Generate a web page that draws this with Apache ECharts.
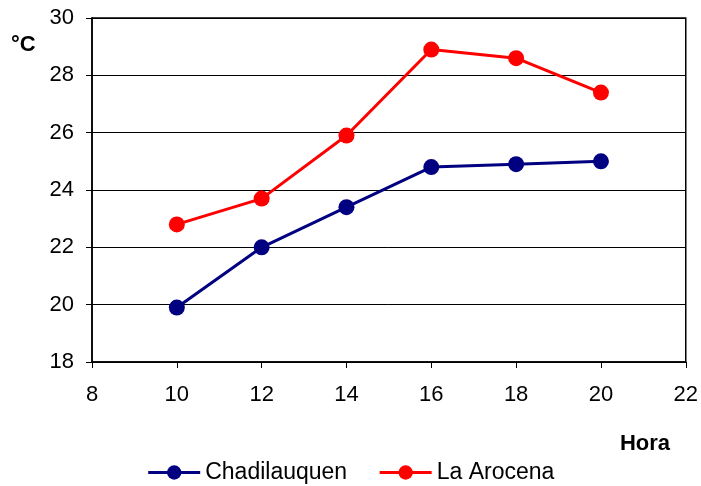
<!DOCTYPE html>
<html>
<head>
<meta charset="utf-8">
<script src="https://cdn.jsdelivr.net/npm/echarts@6/dist/echarts.min.js"></script>
<style>
  html, body { margin: 0; padding: 0; background: #fff; }
  #chart { width: 701px; height: 486px; }
</style>
</head>
<body>
<div id="chart"></div>
<script>
// Hourly temperatures at two sites
const horas = [10, 12, 14, 16, 18, 20];
const chadilauquen = [19.9, 22.0, 23.4, 24.8, 24.9, 25.0];
const laArocena = [22.8, 23.7, 25.9, 28.9, 28.6, 27.4];
const seriesNames = ['Chadilauquen', 'La Arocena'];

const font = 'Liberation Sans, Arial, sans-serif';
const chart = echarts.init(document.getElementById('chart'));

function pairs(xs, ys) { return xs.map((x, i) => [x, ys[i]]); }

chart.setOption({
  animation: false,
  backgroundColor: '#fff',
  grid: { left: 92, right: 15, top: 18, bottom: 124, show: true, borderColor: '#000', borderWidth: 1.5 },
  xAxis: {
    type: 'value', min: 8, max: 22, interval: 2,
    axisLine: { lineStyle: { color: '#000', width: 1.5 } },
    axisTick: { show: true, length: 6, lineStyle: { color: '#000' } },
    axisLabel: { fontFamily: font, fontSize: 22, color: '#000', margin: 22 },
    splitLine: { show: false }
  },
  yAxis: {
    type: 'value', min: 18, max: 30, interval: 2,
    axisLine: { show: true, lineStyle: { color: '#000', width: 1.5 } },
    axisTick: { show: true, length: 6, lineStyle: { color: '#000' } },
    axisLabel: { fontFamily: font, fontSize: 22, color: '#000', margin: 18 },
    splitLine: { show: true, lineStyle: { color: '#000', width: 1 } }
  },
  graphic: [
    {
      type: 'text', x: 11, y: 45,
      style: { text: '°C', fontFamily: font, fontSize: 22, fontWeight: 'bold', fill: '#000',
        textAlign: 'left', textVerticalAlign: 'middle' }
    },
    {
      type: 'text', x: 670, y: 444,
      style: { text: 'Hora', fontFamily: font, fontSize: 22, fontWeight: 'bold', fill: '#000',
        textAlign: 'right', textVerticalAlign: 'middle' }
    }
  ],
  legend: {
    top: 456, left: 'center',
    itemWidth: 52, itemHeight: 18, itemGap: 31,
    textStyle: { fontFamily: font, fontSize: 23, color: '#000' },
    lineStyle: { width: 3 },
    data: seriesNames
  },
  series: [
    {
      name: seriesNames[0], type: 'line', data: pairs(horas, chadilauquen),
      symbol: 'circle', symbolSize: 16,
      lineStyle: { color: '#000080', width: 3 },
      itemStyle: { color: '#000080' }
    },
    {
      name: seriesNames[1], type: 'line', data: pairs(horas, laArocena),
      symbol: 'circle', symbolSize: 16,
      lineStyle: { color: '#ff0000', width: 3 },
      itemStyle: { color: '#ff0000' }
    }
  ]
});
</script>
</body>
</html>
